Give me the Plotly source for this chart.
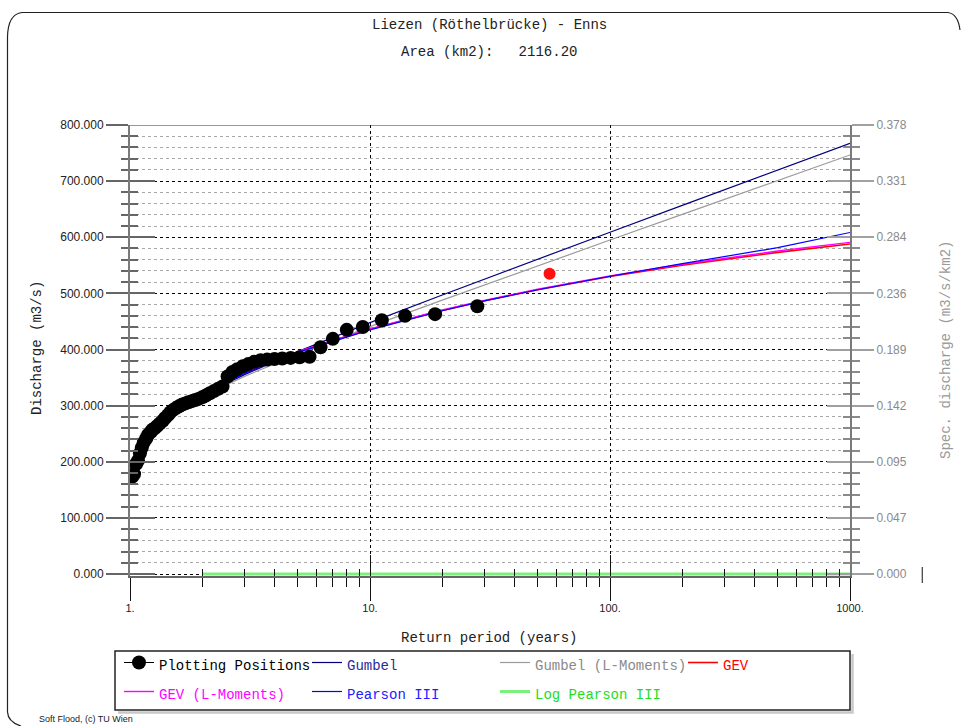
import math
import plotly.graph_objects as go

# ---------------- data ----------------
AREA_KM2 = 2116.20
TITLE = "Liezen (Röthelbrücke) - Enns"

# observed annual maxima, plotting positions (return period in years, discharge m3/s)
T_obs = [28.0, 18.67, 14.0, 11.2, 9.33, 8.0, 7.0, 6.22, 5.6, 5.09, 4.67, 4.31, 4.0,
         3.73, 3.5, 3.29, 3.11, 2.95, 2.8, 2.67, 2.55, 2.43, 2.33, 2.24, 2.15, 2.07,
         2.0, 1.93, 1.87, 1.81, 1.75, 1.7, 1.65, 1.6, 1.56, 1.51, 1.47, 1.44, 1.4,
         1.37, 1.33, 1.3, 1.27, 1.24, 1.22, 1.19, 1.17, 1.14, 1.12, 1.1, 1.08, 1.06,
         1.04, 1.02]
Q_obs = [477, 463, 460, 452, 440, 435, 419, 404, 387, 386, 385, 384, 383,
         382, 381, 378, 374, 370, 365, 360, 352, 334, 330, 326, 322, 318,
         315, 312, 310, 308, 306, 304, 302, 299, 296, 292, 288, 283, 278,
         273, 268, 264, 260, 257, 253, 248, 242, 234, 225, 215, 202, 196,
         178, 173]
# largest observation (highlighted in red)
T_max = [56.0]
Q_max = [535]

# fitted distributions
T_fit = [2, 3, 5, 10, 20, 30, 50, 100, 200, 300, 500, 1000]
gumbel = [318.5, 355.3, 396.3, 447.8, 497.2, 525.6, 561.1, 609.0, 656.7, 684.6, 719.7, 767.2]
gumbel_lm = [316.9, 352.1, 391.3, 440.7, 487.9, 515.1, 549.2, 595.0, 640.7, 667.4, 701.0, 746.6]
gev = [321.3, 358.4, 395.4, 436.0, 469.6, 486.8, 506.5, 530.0, 550.3, 560.7, 573.1, 588.0]
gev_lm = [321.8, 358.9, 396.0, 436.6, 470.3, 487.6, 507.4, 531.2, 551.9, 562.6, 575.4, 590.8]
pearson3 = [319.5, 357.5, 395.0, 435.0, 469.0, 486.5, 506.5, 530.5, 553.0, 565.5, 581.5, 608.5]
log_pearson3 = [0, 0, 0, 0, 0, 0, 0, 0, 0, 0, 0, 0]

# axis ticks
q_major = [0, 100, 200, 300, 400, 500, 600, 700, 800]
q_minor = [q for q in range(0, 801, 20) if q % 100]
t_major = [1, 10, 100, 1000]
t_major_text = ["1.", "10.", "100.", "1000."]
t_minor = [2, 3, 4, 5, 6, 7, 8, 9, 20, 30, 40, 50, 60, 70, 80, 90,
           200, 300, 400, 500, 600, 700, 800, 900]
t_extra_tick = 2000

# ---------------- layout geometry ----------------
W, H = 961, 726
ML, MR, MT, MB = 130, 111, 125, 150
PW, PH = W - ML - MR, H - MT - MB
Y0 = -3.56
YR = [Y0, 800]


def PX(px):
    return (px - ML) / PW


def PY(py):
    return (H - MB - py) / PH


MONO = "Liberation Mono, Courier New, monospace"
SANS = "Liberation Sans, Arial, sans-serif"


def lname(text, color):
    return f'<span style="font-size:14px;color:{color}">{text}</span>'


fig = go.Figure()

fits = [
    ("Gumbel", gumbel, "#000080", 1.2, "#2a2a9a", 2),
    ("Gumbel (L-Moments)", gumbel_lm, "#9a9a9a", 1.2, "#8a8a8a", 3),
    ("GEV", gev, "#ff0000", 1.6, "#ff0000", 4),
    ("GEV (L-Moments)", gev_lm, "#ff00ff", 1.4, "#ff00ff", 5),
    ("Pearson III", pearson3, "#0000ff", 1.2, "#2020ff", 6),
    ("Log Pearson III", log_pearson3, "#7cf07c", 3, "#22dd22", 7),
]
for name, vals, col, w, tcol, rank in fits:
    fig.add_trace(go.Scatter(
        x=T_fit, y=vals, mode="lines", name=lname(name, tcol),
        line=dict(color=col, width=w), legendrank=rank, hoverinfo="skip"))

# plotting positions: isolated points (gaps keep them unconnected, legend shows line + dot)
xs, ys = [], []
for t, q in zip(T_obs, Q_obs):
    xs += [t, None]
    ys += [q, None]
fig.add_trace(go.Scatter(
    x=xs, y=ys, mode="lines+markers", name=lname("Plotting Positions", "#000"),
    line=dict(color="black", width=1), connectgaps=False,
    marker=dict(color="black", size=14, line=dict(width=0)), legendrank=1))
fig.add_trace(go.Scatter(
    x=T_max, y=Q_max, mode="markers", showlegend=False,
    marker=dict(color="#ff1010", size=12, line=dict(width=0))))

# ---------------- axes ----------------
grid_dash = "3px,3px"
fig.update_layout(
    width=W, height=H,
    margin=dict(l=ML, r=MR, t=MT, b=MB, pad=0, autoexpand=False),
    paper_bgcolor="white", plot_bgcolor="white",
    showlegend=True,
    xaxis=dict(
        type="log", range=[0, 3], domain=[0, 1], anchor="y",
        tickmode="array", tickvals=t_major, ticktext=t_major_text,
        ticks="outside", ticklen=23, tickwidth=1, tickcolor="#111",
        minor=dict(tickmode="array", tickvals=t_minor, ticks="outside",
                   ticklen=9, tickwidth=1, tickcolor="#111", showgrid=False),
        showgrid=False, zeroline=False,
        showline=True, linecolor="#666", linewidth=1.5,
        tickfont=dict(family=SANS, size=11, color="#222"),
        ticklabelstandoff=-2,
    ),
    xaxis2=dict(
        type="log", range=[0, 3], overlaying="x", anchor="y", side="bottom",
        tickmode="array", tickvals=t_major, showticklabels=False,
        ticks="inside", ticklen=21, tickwidth=1, tickcolor="#111",
        minor=dict(tickmode="array", tickvals=t_minor, ticks="inside",
                   ticklen=7, tickwidth=1, tickcolor="#111", showgrid=False),
        showgrid=False, zeroline=False, showline=False,
    ),
    xaxis3=dict(
        type="log", range=[0, 3], overlaying="x", anchor="y", side="bottom",
        tickmode="array", tickvals=[10, 100], showticklabels=False, ticks="",
        showgrid=True, gridcolor="#000", gridwidth=1, griddash=grid_dash,
        zeroline=False, showline=False,
    ),
    yaxis=dict(
        range=YR, domain=[0, 1], anchor="x",
        tickmode="array", tickvals=q_major,
        ticktext=[f"{q:.3f}" for q in q_major],
        ticks="outside", ticklen=22, tickwidth=1.5, tickcolor="#666",
        minor=dict(tickmode="array", tickvals=q_minor, ticks="outside",
                   ticklen=7, tickwidth=1.5, tickcolor="#666",
                   showgrid=True, gridcolor="#a8a8a8", gridwidth=1, griddash=grid_dash),
        showgrid=True, gridcolor="#000", gridwidth=1, griddash=grid_dash,
        zeroline=False, showline=True, linecolor="#7a7a7a", linewidth=2,
        tickfont=dict(family=SANS, size=12, color="#222"),
    ),
    yaxis3=dict(
        range=YR, overlaying="y", anchor="x", side="left",
        tickmode="array", tickvals=q_major, showticklabels=False,
        ticks="inside", ticklen=25, tickwidth=1.5, tickcolor="#666",
        minor=dict(tickmode="array", tickvals=q_minor, ticks="inside",
                   ticklen=8, tickwidth=1.5, tickcolor="#666", showgrid=False),
        showgrid=False, zeroline=False, showline=False,
    ),
    yaxis2=dict(
        range=YR, overlaying="y", anchor="x", side="right",
        tickmode="array", tickvals=q_major,
        ticktext=[f"{q / AREA_KM2:.3f}" for q in q_major],
        ticks="outside", ticklen=22, tickwidth=1.5, tickcolor="#a0a0a0",
        minor=dict(tickmode="array", tickvals=q_minor, ticks="outside",
                   ticklen=8, tickwidth=1.5, tickcolor="#8a8a8a", showgrid=False),
        showgrid=False, zeroline=False, showline=True, linecolor="#7a7a7a", linewidth=2,
        tickfont=dict(family=SANS, size=12, color="#8a8a8a"),
    ),
    yaxis4=dict(
        range=YR, overlaying="y", anchor="x", side="right",
        tickmode="array", tickvals=q_major, showticklabels=False,
        ticks="inside", ticklen=23, tickwidth=1.5, tickcolor="#a0a0a0",
        minor=dict(tickmode="array", tickvals=q_minor, ticks="inside",
                   ticklen=7, tickwidth=1.5, tickcolor="#8a8a8a", showgrid=False),
        showgrid=False, zeroline=False, showline=False,
    ),
    legend=dict(
        orientation="h", x=PX(119), xanchor="left", y=PY(643), yanchor="top",
        bgcolor="rgba(0,0,0,0)", borderwidth=0,
        font=dict(family=MONO, size=20, color="black"),
        entrywidth=143, entrywidthmode="pixels", itemwidth=30,
        traceorder="normal", tracegroupgap=0,
    ),
)

# dummy traces so that the overlay axes are instantiated
for xa, ya in [("x2", "y"), ("x3", "y"), ("x", "y2"), ("x", "y3"), ("x", "y4")]:
    fig.add_trace(go.Scatter(x=[None], y=[None], xaxis=xa, yaxis=ya,
                             showlegend=False, hoverinfo="skip"))

# ---------------- text ----------------
ann = [
    dict(text=TITLE, x=PX(489), y=PY(25), font=dict(family=MONO, size=14, color="#222")),
    dict(text=f"Area (km2):\u00a0\u00a0\u00a0{AREA_KM2:.2f}", x=PX(489), y=PY(52),
         font=dict(family=MONO, size=14, color="#222")),
    dict(text="Return period (years)", x=PX(489), y=PY(638),
         font=dict(family=MONO, size=14, color="#222")),
    dict(text="Discharge (m3/s)", x=PX(37), y=PY(348), textangle=-90,
         font=dict(family=MONO, size=14, color="#222")),
    dict(text="Spec. discharge (m3/s/km2)", x=PX(946), y=PY(350), textangle=-90,
         font=dict(family=MONO, size=14, color="#9a9a9a")),
    dict(text="Soft Flood, (c) TU Wien", x=PX(37), y=PY(719), xanchor="left",
         font=dict(family=SANS, size=9, color="#222")),
]
for a in ann:
    a.setdefault("xanchor", "center")
    fig.add_annotation(xref="paper", yref="paper", yanchor="middle", showarrow=False, **a)

# ---------------- decorations ----------------
shapes = []
# solid top line at 800
shapes.append(dict(type="line", xref="paper", yref="y", x0=0, x1=1, y0=800, y1=800,
                   line=dict(color="#333", width=1.2), layer="above"))
# extra minor tick beyond the axis end (2000 years)
xt = math.log10(t_extra_tick) / 3
y_zero = (0 - Y0) / (800 - Y0)
shapes.append(dict(type="line", xref="paper", yref="paper", x0=xt, x1=xt,
                   y0=y_zero - 9 / PH, y1=y_zero + 7 / PH,
                   line=dict(color="#111", width=1)))


def pth(points_cmds):
    out = []
    for c in points_cmds:
        if isinstance(c, str):
            out.append(c)
        else:
            out.append(f"{PX(c[0]):.5f},{PY(c[1]):.5f}")
    return " ".join(out)


# outer frame with curled corners
frame = pth(["M", (21, 726), "Q", (8, 722), (7.5, 712), "L", (7.5, 37),
             "Q", (8, 14), (22, 12.5), "L", (948, 12.5), "Q", (958, 14), (960, 30)])
shapes.append(dict(type="path", xref="paper", yref="paper", path=frame,
                   line=dict(color="#222", width=1.2)))
# legend box with shadow
shapes.append(dict(type="path", xref="paper", yref="paper",
                   path=pth(["M", (118, 712.5), "L", (852.5, 712.5), "L", (852.5, 654)]),
                   line=dict(color="#c8c8c8", width=2.5), layer="below"))
shapes.append(dict(type="rect", xref="paper", yref="paper",
                   x0=PX(115), x1=PX(850), y0=PY(710), y1=PY(651),
                   line=dict(color="#222", width=1.5), fillcolor="white", layer="below"))
fig.update_layout(shapes=shapes)

fig.write_html("out.html")
